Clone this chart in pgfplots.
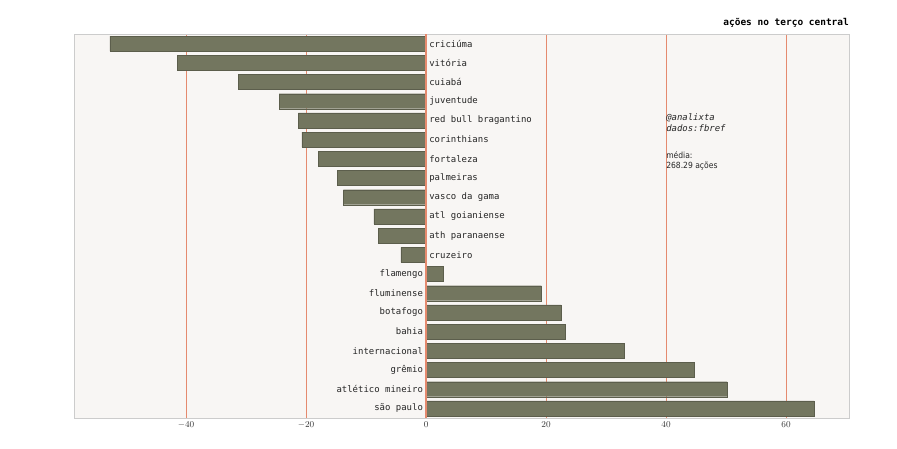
\documentclass[border=0pt]{standalone}
\usepackage{pgfplots}
\pgfplotsset{compat=1.18}
\usepackage{fontspec}
\setmainfont{DejaVu Sans}
\setmonofont{DejaVu Sans Mono}
\newfontfamily\cond{DejaVu Sans Condensed}
\definecolor{bg}{HTML}{F8F6F4}
\definecolor{barc}{HTML}{73765F}
\definecolor{gridc}{HTML}{E58A6E}
\tikzset{lr/.style={anchor=west, font=\ttfamily\fontsize{9}{10}\selectfont, text=black!85, inner sep=0pt},
ll/.style={anchor=east, font=\ttfamily\fontsize{9}{10}\selectfont, text=black!85, inner sep=0pt}}
\begin{document}
\begin{tikzpicture}
\begin{axis}[
  scale only axis, width=775bp, height=384bp,
  xmin=-58.7, xmax=70.5, ymin=-0.5, ymax=19.5, y dir=reverse,
  axis background/.style={fill=bg},
  axis line style={draw=black!20},
  xtick={-40,-20,0,20,40,60}, ytick=\empty,
  major tick length=0pt,
  tick label style={font=\fontsize{9.5}{11}\selectfont, text=black!80},
  xmajorgrids, grid style={draw=gridc, line width=1pt},
  xbar, bar width=15bp, bar shift=0pt,
  clip=false,
]
\addplot[fill=barc, draw=barc!80!black] coordinates {
(-52.7,0) (-41.5,1) (-31.3,2) (-24.5,3) (-21.3,4) (-20.7,5) (-18,6) (-14.8,7) (-13.8,8) (-8.7,9) (-8,10) (-4.2,11) (2.8,12) (19.2,13) (22.5,14) (23.2,15) (33,16) (44.7,17) (50.2,18) (64.7,19)};
\draw[gridc, line width=1.5pt] (axis cs:0,-0.5) -- (axis cs:0,19.5);
\node[lr] at (axis cs:0.5,0) {criciúma};
\node[lr] at (axis cs:0.5,1) {vitória};
\node[lr] at (axis cs:0.5,2) {cuiabá};
\node[lr] at (axis cs:0.5,3) {juventude};
\node[lr] at (axis cs:0.5,4) {red bull bragantino};
\node[lr] at (axis cs:0.5,5) {corinthians};
\node[lr] at (axis cs:0.5,6) {fortaleza};
\node[lr] at (axis cs:0.5,7) {palmeiras};
\node[lr] at (axis cs:0.5,8) {vasco da gama};
\node[lr] at (axis cs:0.5,9) {atl goianiense};
\node[lr] at (axis cs:0.5,10) {ath paranaense};
\node[lr] at (axis cs:0.5,11) {cruzeiro};
\node[ll] at (axis cs:-0.5,12) {flamengo};
\node[ll] at (axis cs:-0.5,13) {fluminense};
\node[ll] at (axis cs:-0.5,14) {botafogo};
\node[ll] at (axis cs:-0.5,15) {bahia};
\node[ll] at (axis cs:-0.5,16) {internacional};
\node[ll] at (axis cs:-0.5,17) {grêmio};
\node[ll] at (axis cs:-0.5,18) {atlético mineiro};
\node[ll] at (axis cs:-0.5,19) {são paulo};
\node[anchor=north west, align=left, font=\ttfamily\itshape\fontsize{9}{10.5}\selectfont, text=black!85, inner sep=0pt] at (axis cs:40,3.65) {@analixta\\dados:fbref};
\node[anchor=north west, align=left, font=\cond\fontsize{8.5}{10.5}\selectfont, text=black!85, inner sep=0pt] at (axis cs:40,5.6) {média:\\268.29 ações};
\node[anchor=south east, font=\ttfamily\bfseries\fontsize{9.5}{11}\selectfont, inner sep=0pt] at ([yshift=6bp]rel axis cs:1,1) {ações no terço central};
\end{axis}
\path (current axis.south west) ++(-74bp,-31bp) rectangle ++(897bp,449bp);
\end{tikzpicture}
\end{document}
